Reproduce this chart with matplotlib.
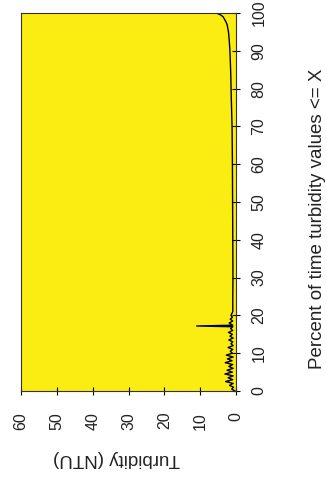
import numpy as np
import matplotlib.pyplot as plt

# data (chart is drawn rotated: turbidity runs horizontally, percent vertically)
percent = [0, 0.5, 1.0, 1.5, 2.0, 2.5, 3.0, 3.5, 4.0, 4.5, 5.0, 5.5, 6.0, 6.5,
           7.0, 7.5, 8.0, 8.5, 9.0, 9.5, 10.0, 10.5, 11.0, 11.5, 12.0, 12.5,
           13.0, 13.5, 14.0, 14.5, 15.0, 15.5, 16.0, 16.5, 17.0, 17.2, 17.4,
           18.0, 18.5, 19.0, 19.5, 20.0, 21, 25, 30, 40, 50, 60, 70, 77, 85,
           90, 93, 95, 97, 98, 99, 99.5, 100, 100]
turbidity = [0.3, 1.2, 0.7, 1.8, 0.8, 2.9, 0.9, 2.2, 0.8, 3.1, 1.0, 2.5, 0.8, 2.0,
             0.9, 3.0, 1.1, 2.4, 0.8, 2.7, 1.0, 1.6, 0.9, 2.2, 0.8, 1.4,
             0.9, 2.0, 0.8, 1.7, 1.0, 2.1, 0.9, 1.5, 0.9, 11.0, 0.9,
             1.9, 0.9, 1.6, 1.0, 1.4, 0.9, 0.9, 0.85, 0.9, 0.95, 1.0, 1.1, 1.3, 1.5,
             1.7, 1.9, 2.1, 2.5, 3.0, 3.6, 4.3, 5.5, 50.5]

turb_ticks = [0, 10, 20, 30, 40, 50, 60]
pct_ticks = [0, 10, 20, 30, 40, 50, 60, 70, 80, 90, 100]

plt.rcParams['font.family'] = ['Liberation Sans', 'DejaVu Sans']

fig = plt.figure(figsize=(3.27, 4.8), dpi=100)
ax = fig.add_axes([21/327, 89/480, 215/327, 378/480])
ax.set_facecolor('#fbec12')

ax.plot(turbidity, percent, color='black', lw=1.0)

ax.set_xlim(60, 0)
ax.set_ylim(0, 100)
ax.set_xticks(turb_ticks)
ax.set_yticks(pct_ticks)
ax.yaxis.tick_right()
ax.tick_params(axis='both', direction='inout', length=6, width=0.8, labelsize=11.5,
               labelcolor='#222222')
ax.tick_params(axis='x', labelrotation=90, pad=12)
ax.tick_params(axis='y', labelrotation=90, pad=8)
for lab in ax.get_yticklabels():
    lab.set_va('center')
for lab in ax.get_xticklabels():
    lab.set_ha('center')

# axis titles
fig.text(117/327, 1 - 459/480, 'Turbidity (NTU)', fontsize=13.5, rotation=180,
         ha='center', va='center', color='#222222')
fig.text(317/327, 1 - 219/480, 'Percent of time turbidity values <= X', fontsize=13.5,
         rotation=90, ha='center', va='center', color='#222222')

for s in ax.spines.values():
    s.set_color('#333333')
    s.set_linewidth(0.8)

plt.savefig('out.png', dpi=100)
